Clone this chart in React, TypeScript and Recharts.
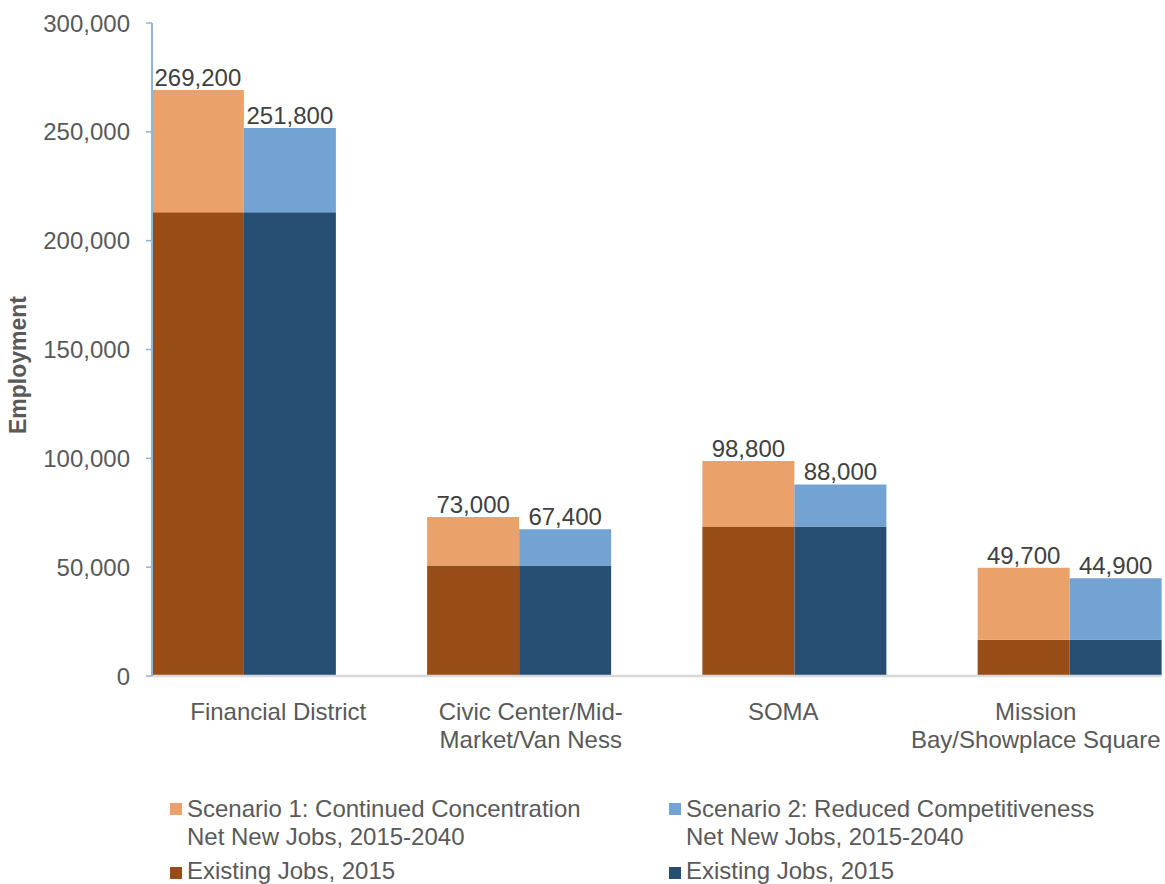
import React from "react";
import { BarChart, Bar, XAxis, YAxis, LabelList, Legend } from "recharts";

const CATEGORIES = [
  "Financial District",
  "Civic Center/Mid-\nMarket/Van Ness",
  "SOMA",
  "Mission\nBay/Showplace Square",
];
const EXISTING_2015 = [213000, 50800, 68700, 16700];
const TOTAL_SCENARIO_1 = [269200, 73000, 98800, 49700];
const TOTAL_SCENARIO_2 = [251800, 67400, 88000, 44900];
const Y_TICKS = [0, 50000, 100000, 150000, 200000, 250000, 300000];

const LEGEND_ITEMS = [
  { label: ["Scenario 1: Continued Concentration", "Net New Jobs, 2015-2040"], color: "#EBA26A" },
  { label: ["Scenario 2: Reduced Competitiveness", "Net New Jobs, 2015-2040"], color: "#72A3D2" },
  { label: ["Existing Jobs, 2015"], color: "#984C16" },
  { label: ["Existing Jobs, 2015"], color: "#264E73" },
];

const data = CATEGORIES.map((name, i) => ({
  name,
  existing1: EXISTING_2015[i],
  new1: TOTAL_SCENARIO_1[i] - EXISTING_2015[i],
  total1: TOTAL_SCENARIO_1[i],
  existing2: EXISTING_2015[i],
  new2: TOTAL_SCENARIO_2[i] - EXISTING_2015[i],
  total2: TOTAL_SCENARIO_2[i],
}));

const FONT = "'Liberation Sans', Arial, sans-serif";
const TEXT = "#595959";
const fmt = (v: number) => v.toLocaleString("en-US");

function CategoryTick({ x, y, payload }: any) {
  const lines = String(payload.value).split("\n");
  return (
    <text x={x} y={y} textAnchor="middle" fill={TEXT} fontSize={24} fontFamily={FONT}>
      {lines.map((l, i) => (
        <tspan key={i} x={x} dy={i === 0 ? 44 : 28}>
          {l}
        </tspan>
      ))}
    </text>
  );
}

function LegendBox() {
  const cols = [170, 669];
  const rows = [11, 73];
  return (
    <div style={{ position: "relative", height: 100, width: 1165, fontFamily: FONT, fontSize: 24, color: TEXT, lineHeight: "28px" }}>
      {LEGEND_ITEMS.map((item, i) => {
        const left = cols[i % 2];
        const top = rows[Math.floor(i / 2)];
        const swatchTop = top + 8 + (i >= 2 ? 2 : 0);
        return (
          <React.Fragment key={i}>
            <div style={{ position: "absolute", left, top: swatchTop, width: 12, height: 12, background: item.color }} />
            <div style={{ position: "absolute", left: left + 17, top, whiteSpace: "nowrap" }}>
              {item.label.map((l, j) => (
                <div key={j}>{l}</div>
              ))}
            </div>
          </React.Fragment>
        );
      })}
    </div>
  );
}

export default function App() {
  return (
    <div style={{ position: "absolute", left: 0, top: 0, width: 1165, height: 884, background: "#fff", fontFamily: FONT }}>
      <BarChart
        width={1165}
        height={884}
        data={data}
        margin={{ top: 23, right: 3, left: 0, bottom: 0 }}
        barGap={0}
        barCategoryGap="16.67%"
      >
        <XAxis xAxisId="bars" dataKey="name" hide height={0} padding={{ left: -46, right: -45 }} />
        <XAxis
          xAxisId="labels"
          dataKey="name"
          height={108}
          tickSize={0}
          tickMargin={0}
          tickLine={false}
          axisLine={{ stroke: "#D9D9D9", strokeWidth: 2.5 }}
          tick={<CategoryTick />}
          interval={0}
        />
        <YAxis
          width={152}
          domain={[0, 300000]}
          ticks={Y_TICKS}
          tickFormatter={fmt}
          axisLine={{ stroke: "#8FB3D9", strokeWidth: 2 }}
          tickLine={{ stroke: "#8FB3D9", strokeWidth: 1.5 }}
          tickSize={6}
          tickMargin={16}
          tick={{ fill: TEXT, fontSize: 24, fontFamily: FONT }}
          interval={0}
          label={() => (
            <text
              x={26}
              y={365}
              transform="rotate(-90, 26, 365)"
              textAnchor="middle"
              fill={TEXT}
              fontSize={23}
              fontWeight="bold"
              fontFamily={FONT}
            >
              Employment
            </text>
          )}
        />
        <Legend verticalAlign="bottom" align="left" wrapperStyle={{ left: 0, width: 1165 }} content={() => <LegendBox />} />
        <Bar xAxisId="bars" dataKey="existing1" stackId="s1" fill="#984C16" isAnimationActive={false} />
        <Bar xAxisId="bars" dataKey="new1" stackId="s1" fill="#EBA26A" isAnimationActive={false}>
          <LabelList dataKey="total1" position="top" offset={4} formatter={(v: any) => fmt(Number(v))} fill="#404040" fontSize={24} fontFamily={FONT} />
        </Bar>
        <Bar xAxisId="bars" dataKey="existing2" stackId="s2" fill="#264E73" isAnimationActive={false} />
        <Bar xAxisId="bars" dataKey="new2" stackId="s2" fill="#72A3D2" isAnimationActive={false}>
          <LabelList dataKey="total2" position="top" offset={4} formatter={(v: any) => fmt(Number(v))} fill="#404040" fontSize={24} fontFamily={FONT} />
        </Bar>
      </BarChart>
    </div>
  );
}
